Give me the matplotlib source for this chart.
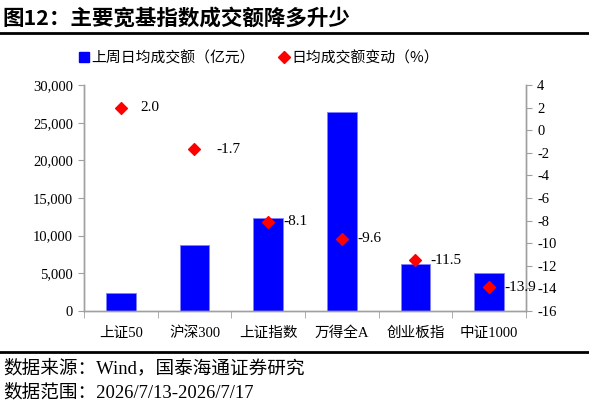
import matplotlib
matplotlib.use("Agg")
import matplotlib.pyplot as plt
from matplotlib.patches import Patch
from matplotlib.lines import Line2D
from matplotlib.ticker import FuncFormatter
import numpy as np

plt.rcParams['font.family'] = ['Liberation Serif', 'Noto Sans CJK SC']
plt.rcParams['axes.unicode_minus'] = False

# data
indices = ['上证50', '沪深300', '上证指数', '万得全A', '创业板指', '中证1000']
turnover = [2450, 8800, 12400, 26400, 6300, 5100]       # 亿元
change_pct = [2.0, -1.7, -8.1, -9.6, -11.5, -13.9]      # %
label_dx = [14, 16, 11, 11, 11, 11]                      # label offset in points

fig = plt.figure(figsize=(5.89, 4.07), dpi=100)
ax = fig.add_axes([0.1426, 0.236, 0.893 - 0.1426, 0.791 - 0.236])
ax2 = ax.twinx()

x = np.arange(len(indices))
ax.bar(x, turnover, width=0.4, color='#0000ff', edgecolor='#8080ff', linewidth=0.6, zorder=2)
ax.set_ylim(0, 30000)
ax.set_yticks(np.arange(0, 30001, 5000))
ax.yaxis.set_major_formatter(FuncFormatter(lambda v, p: f'{int(v):,}'))
ax.set_xlim(-0.5, len(indices) - 0.5)
ax.set_xticks(x)
ax.set_xticklabels(indices, fontsize=10.5)
ax.tick_params(axis='x', which='major', length=0, pad=11)
ax.set_xticks(np.arange(-0.5, len(indices), 1), minor=True)
ax.tick_params(axis='x', which='minor', length=5, color='#a0a0a0')
ax.tick_params(axis='y', labelsize=10.5, length=4, color='#a0a0a0', pad=4)

ax2.scatter(x, change_pct, marker='D', s=36, color='#ff0000', zorder=3)
for xi, v, dx in zip(x, change_pct, label_dx):
    ax2.annotate(f'{v:.1f}', (xi, v), xytext=(dx, 0), textcoords='offset points',
                 ha='left', va='center', fontsize=11)
ax2.set_ylim(-16, 4)
ax2.set_yticks(np.arange(-16, 5, 2))
ax2.tick_params(axis='y', labelsize=10.5, length=4, color='#a0a0a0', pad=4)

for a in (ax, ax2):
    a.spines['top'].set_visible(False)
    for s in ('left', 'right', 'bottom'):
        a.spines[s].set_color('#a0a0a0')
        a.spines[s].set_linewidth(1.0)

handles = [Patch(facecolor='#0000ff', edgecolor='#0000ff'),
           Line2D([], [], marker='D', color='#ff0000', linestyle='none', markersize=6)]
fig.legend(handles, ['上周日均成交额（亿元）', '日均成交额变动（%）'],
           loc='center', bbox_to_anchor=(0.44, 0.857), ncol=2, frameon=False,
           handlelength=0.7, handletextpad=0.15, columnspacing=1.6,
           prop={'family': ['Noto Sans CJK SC'], 'size': 10.7})

fig.text(0.005, 0.955, '图12：主要宽基指数成交额降多升少', fontsize=15.5, fontweight='bold',
         family=['Noto Sans CJK SC'], va='center', ha='left')
fig.add_artist(Line2D([0, 1], [0.92, 0.92], color='black', linewidth=2, transform=fig.transFigure))
fig.add_artist(Line2D([0, 1], [0.135, 0.135], color='black', linewidth=2, transform=fig.transFigure))
fig.text(0.005, 0.094, '数据来源：Wind，国泰海通证券研究', fontsize=13.4, va='center', ha='left')
fig.text(0.005, 0.035, '数据范围：2026/7/13-2026/7/17', fontsize=13.4, va='center', ha='left')

fig.savefig('out.png', dpi=100)
